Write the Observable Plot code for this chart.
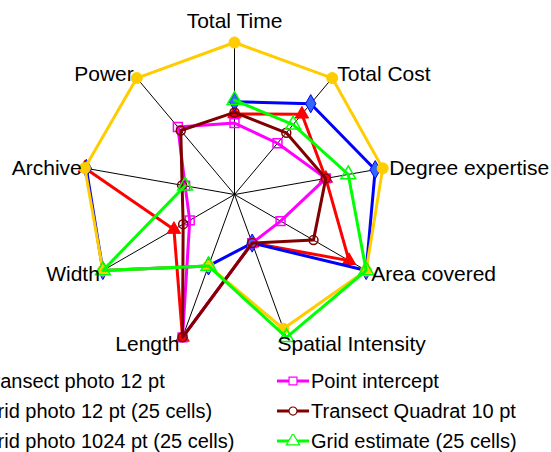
<!DOCTYPE html>
<html><head><meta charset="utf-8">
<script src="https://cdn.jsdelivr.net/npm/d3@7"></script>
<script src="https://cdn.jsdelivr.net/npm/@observablehq/plot@0.6"></script>
<style>
html,body{margin:0;padding:0;background:#fff;}
body{width:551px;height:452px;overflow:hidden;font-family:"Liberation Sans",Arial,sans-serif;}
#chart svg{display:block;overflow:hidden;}
#legend{position:relative;width:551px;height:92px;overflow:hidden;font-size:20px;color:#000;}
.item{position:absolute;height:30px;display:flex;align-items:center;white-space:nowrap;}
.item svg{margin-right:2px;flex:none;}
</style></head><body>
<div id="chart"></div><div id="legend"></div>
<script>
// Axes (clockwise from top)
const axes = ["Total Time","Total Cost","Degree expertise","Area covered","Spatial Intensity","Length","Width","Archive","Power"];
// Series names
const seriesNames = ["Transect photo 12 pt","Grid photo 12 pt (25 cells)","Grid photo 1024 pt (25 cells)","Point intercept","Transect Quadrat 10 pt","Grid estimate (25 cells)"];
// Values, percent of the outer ring (null = empty cell)
const transectPhoto12 = [53, 69, 61, 87, 34, 100, 46, 100, null];
const gridPhoto12     = [61, 78, 94, 100, 34, 50, 100, 99, null];
const gridPhoto1024   = [100, 100, 99, 100, 94, 50, 100, 100, 100];
const pointIntercept  = [47, 44, 61, 35, 34, 100, 34, 33, 58];
const transectQuadrat = [54, 53, 61, 60, 34, 100, 39, 35, 55];
const gridEstimate    = [62, 60, 76, 100, 100, 50, 100, 33, null];
const maxValue = 100;

const seriesValues = [transectPhoto12, gridPhoto12, gridPhoto1024, pointIntercept, transectQuadrat, gridEstimate];
const styles = [
  {color:"#ff0000", symbol:"triangle", fill:"#ff0000", r:5},
  {color:"#0000ff", symbol:"diamond", fill:"#3366ff", r:5.5},
  {color:"#ffcc00", symbol:"circle", fill:"#ffcc00", r:5.5},
  {color:"#ff00ff", symbol:"square", fill:"none", r:5},
  {color:"#800000", symbol:"circle", fill:"none", r:4.5},
  {color:"#00ff00", symbol:"triangle", fill:"none", r:5.5}
];

const n = axes.length;
const ang = i => (i % n) * 2 * Math.PI / n;
const px = (v, i) => v == null ? NaN : v * Math.sin(ang(i));
const py = (v, i) => v == null ? NaN : v * Math.cos(ang(i));

const marks = [];
// spokes
marks.push(Plot.link(axes, {
  x1: 0, y1: 0,
  x2: (d, i) => px(maxValue, i), y2: (d, i) => py(maxValue, i),
  stroke: "black", strokeWidth: 1
}));
// series: line then markers, series by series
seriesNames.forEach((name, s) => {
  const vals = seriesValues[s];
  const st = styles[s];
  const rows = d3.range(n + 1).map(i => ({series: name, x: px(vals[i % n], i), y: py(vals[i % n], i)}));
  marks.push(Plot.line(rows, {x: "x", y: "y", stroke: st.color, strokeWidth: 3}));
  const pts = vals.map((v, i) => ({v, i})).filter(d => d.v != null);
  marks.push(Plot.dot(pts, {
    x: d => px(d.v, d.i), y: d => py(d.v, d.i),
    symbol: st.symbol, r: st.r,
    fill: st.fill, stroke: st.color, strokeWidth: st.fill === "none" ? 1.5 : 1
  }));
});
// axis labels
axes.forEach((name, i) => {
  const s = Math.sin(ang(i)), c = Math.cos(ang(i));
  const anchor = Math.abs(s) < 0.1 ? "middle" : (s > 0 ? "start" : "end");
  const dx = anchor === "middle" ? 0 : (s > 0 ? (c < -0.9 ? -9 : 5) : -3);
  const dy = c > 0.99 ? -21 : -c * 6 + 1;
  marks.push(Plot.text([name], {
    x: px(maxValue, i), y: py(maxValue, i), text: d => d,
    textAnchor: anchor, lineAnchor: "middle", dx, dy,
    fontSize: 21, fill: "black"
  }));
});

const chart = Plot.plot({
  width: 551, height: 360,
  marginLeft: 82, marginRight: 165, marginTop: 42, marginBottom: 14,
  x: {domain: [-maxValue, maxValue], axis: null},
  y: {domain: [-maxValue, maxValue], axis: null},
  style: {fontFamily: '"Liberation Sans", Arial, sans-serif', background: "white", overflow: "hidden"},
  marks
});
document.getElementById("chart").appendChild(chart);

// legend
const legend = d3.select("#legend");
const symMap = {triangle: d3.symbolTriangle, diamond: d3.symbolDiamond, circle: d3.symbolCircle, square: d3.symbolSquare};
seriesNames.forEach((name, s) => {
  const col = Math.floor(s / 3), row = s % 3;
  const st = styles[s];
  const item = legend.append("div").attr("class", "item")
    .style("left", (col === 0 ? -52 : 277) + "px")
    .style("top", (6 + row * 30) + "px");
  const svg = item.append("svg").attr("width", 32).attr("height", 14);
  svg.append("line").attr("x1", 0).attr("x2", 32).attr("y1", 7).attr("y2", 7)
    .attr("stroke", st.color).attr("stroke-width", 3);
  svg.append("path").attr("transform", "translate(16,7)")
    .attr("d", d3.symbol(symMap[st.symbol], Math.PI * st.r * st.r * 0.8)())
    .attr("fill", st.fill === "none" ? "white" : st.fill)
    .attr("stroke", st.color).attr("stroke-width", st.fill === "none" ? 1.2 : 1);
  item.append("span").text(name);
});
</script>
</body></html>
